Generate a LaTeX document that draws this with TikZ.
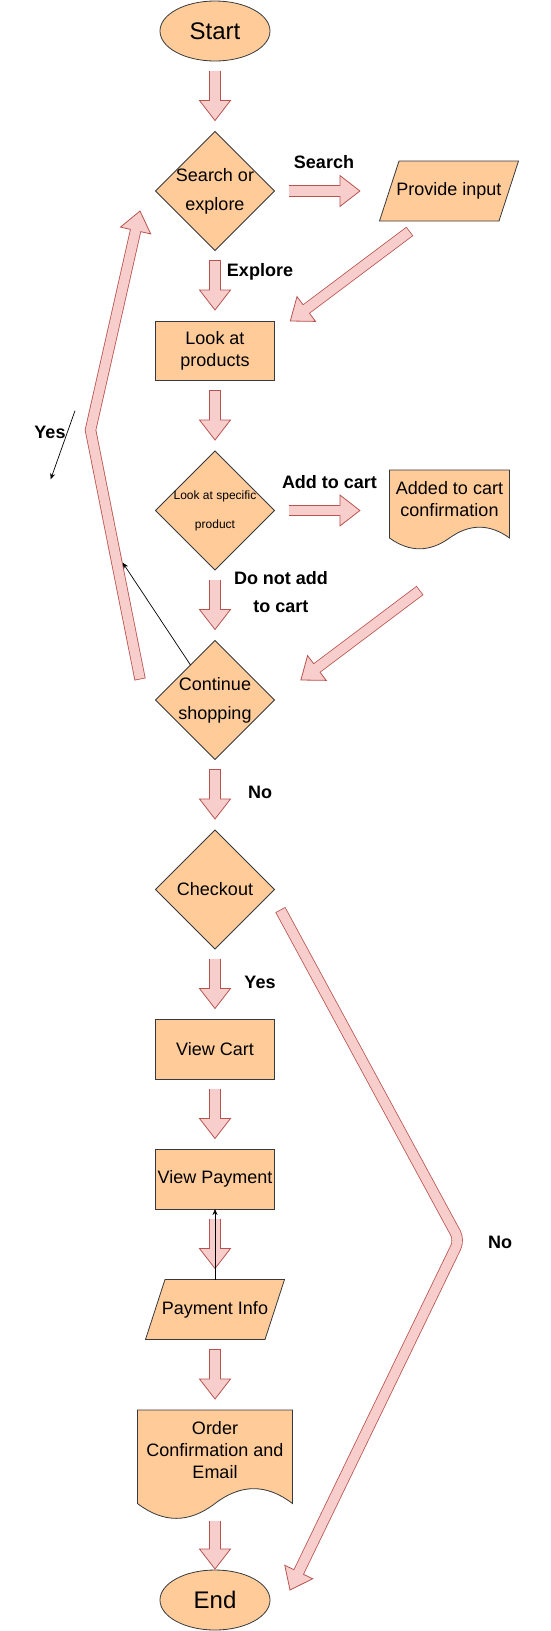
\documentclass[tikz,border=0pt]{standalone}
\usepackage{fontspec}
\setmainfont{Liberation Sans}
\usetikzlibrary{shapes.geometric,arrows.meta,positioning,calc,backgrounds}
\definecolor{ShapeFill}{HTML}{FFCC99}
\definecolor{ShapeLine}{HTML}{36393D}
\definecolor{FlowFill}{HTML}{F8CECC}
\definecolor{FlowLine}{HTML}{B85450}

% block arrow: #2 tail part of the path, #3 last corner before the tip, #4 tip
\newcommand{\blockpath}[4][]{%
  \coordinate (bp-base) at ($#4!20pt!#3$);
  \draw[blockedge,#1] #2 -- (bp-base);
  \filldraw[blockhead] (bp-base) -- ($(bp-base)!15.5pt!90:#4$) -- #4 -- ($(bp-base)!15.5pt!-90:#4$) -- cycle;
  \draw[blockcore,#1] #2 -- ($(bp-base)!1pt!#4$);
}
\newcommand{\blockarrow}[2]{\blockpath{#1}{#1}{#2}}
% wavy document outline behind a node
\newcommand{\docshape}[3]{%
  \begin{scope}[shift={(#1.north west)},x=#2,y=-#3]
    \filldraw[draw=ShapeLine,fill=ShapeFill,line width=0.8pt] (0,0) -- (1,0) -- (1,0.85)
      .. controls (0.8333,0.67) and (0.6667,0.67) .. (0.5,0.85)
      .. controls (0.3333,1.03) and (0.1667,1.03) .. (0,0.85) -- cycle;
  \end{scope}}
% slanted input box behind a node
\newcommand{\ioshape}[1]{%
  \filldraw[draw=ShapeLine,fill=ShapeFill,line width=0.8pt] ([xshift=19.5pt]#1.north west) -- (#1.north east)
    -- ([xshift=-19.5pt]#1.south east) -- (#1.south west) -- cycle;}

\begin{document}
\begin{tikzpicture}[x=1pt,y=-1pt,
  base/.style={draw=ShapeLine,fill=ShapeFill,line width=0.8pt,outer sep=0pt,align=center,font=\fontsize{18}{22}\selectfont},
  terminal/.style={base,ellipse,minimum width=110pt,minimum height=60pt,inner sep=0pt,font=\fontsize{24}{28}\selectfont},
  decision/.style={base,diamond,minimum width=119pt,minimum height=119pt,inner sep=-12pt,font=\fontsize{18}{29}\selectfont},
  process/.style={base,rectangle,minimum width=119pt,minimum height=59.5pt,inner sep=2pt},
  io/.style={base,draw=none,fill=none,minimum width=139pt,minimum height=60pt,inner sep=0pt},
  doc/.style={base,draw=none,fill=none,inner sep=0pt},
  lbl/.style={align=center,font=\bfseries\fontsize{18}{22}\selectfont},
  blockedge/.style={draw=FlowLine,line width=11.3pt,line join=miter,shorten <=-0.4pt},
  blockcore/.style={draw=FlowFill,line width=9.7pt,line join=miter,shorten <=0.4pt},
  blockhead/.style={draw=FlowLine,fill=FlowFill,line width=0.8pt,line join=miter},
  pointer/.style={draw=black,line width=0.7pt,-{Stealth[length=6pt,width=5pt]}}
]
\useasboundingbox (0,0) rectangle (551,1631);

% main column
\node[terminal] (start) at (215,31) {Start};
\node[decision,below=70.5pt of start] (search) {Search or\\explore};
\node[process,below=70.5pt of search] (products) {Look at\\products};
\node[decision,below=70.5pt of products,font=\fontsize{12}{29}\selectfont] (specific) {Look at specific\\product};
\node[decision,below=70.5pt of specific] (continue) {Continue\\shopping};
\node[decision,below=70.5pt of continue] (checkout) {Checkout};
\node[process,below=70.5pt of checkout] (cart) {View Cart};
\node[process,below=70.5pt of cart] (payment) {View Payment};
\node[io,below=70.5pt of payment] (info) {Payment Info};
\node[doc,minimum width=155pt,minimum height=79.2pt,below=70.5pt of info] (order) {Order\\Confirmation and\\Email};
\node[terminal,below=80.8pt of order] (stop) {End};

% side column
\node[io] (provide) at (449,191) {Provide input};
\node[doc,minimum width=120pt,minimum height=57.6pt] (added) at (449.5,498.8) {Added to cart\\confirmation};

\begin{pgfonlayer}{background}
  \docshape{added}{120pt}{80pt}
  \docshape{order}{155pt}{110pt}
  \ioshape{provide}
  \ioshape{info}
\end{pgfonlayer}

% labels
\node[lbl] (lsearch) at (324,162) {Search};
\node[lbl] (lexplore) at (260,272) {Explore};
\node[lbl] (ladd) at (329.5,482) {Add to cart};
\node[lbl,font=\bfseries\fontsize{18}{28}\selectfont] (lnotadd) at (281,592.5) {Do not add\\to cart};
\node[lbl] (lno) at (260,792) {No};
\node[lbl] (lyes) at (260,982) {Yes};
\node[lbl] (lloop) at (50,432) {Yes};
\node[lbl] (lexit) at (500,1242) {No};

% straight flow
\blockarrow{([yshift=-10pt]start.south)}{([yshift=11pt]search.north)}
\blockarrow{([yshift=-10pt]search.south)}{([yshift=11pt]products.north)}
\blockarrow{([yshift=-10pt]products.south)}{([yshift=11pt]specific.north)}
\blockarrow{([yshift=-10pt]specific.south)}{([yshift=11pt]continue.north)}
\blockarrow{([yshift=-10pt]continue.south)}{([yshift=11pt]checkout.north)}
\blockarrow{([yshift=-10pt]checkout.south)}{([yshift=11pt]cart.north)}
\blockarrow{([yshift=-10pt]cart.south)}{([yshift=11pt]payment.north)}
\blockarrow{([yshift=-10pt]payment.south)}{([yshift=11pt]info.north)}
\blockarrow{([yshift=-10pt]info.south)}{([yshift=11pt]order.north)}
\blockarrow{([yshift=-31.8pt]order.south)}{([yshift=1pt]stop.north)}
\blockarrow{([xshift=14.4pt]search.east)}{([xshift=85.4pt]search.east)}
\blockarrow{([xshift=14.4pt]specific.east)}{([xshift=85.4pt]specific.east)}
\blockarrow{([shift={(-39.5,10.5)}]provide.south)}{([xshift=15.8pt]products.north east)}
\blockarrow{([shift={(-29.8,63)}]added.south)}{([shift={(26.4,-20)}]continue.east)}

% loop back and exit
\coordinate (loopbend) at (90.5,430);
\blockpath{([shift={(-15.5,-21)}]continue.west) -- (loopbend)}{(loopbend)}{([shift={(-15.5,20)}]search.west)}
\coordinate (exitbend) at (459.3,1240);
\blockpath[rounded corners=8pt]{([shift={(6,20.5)}]checkout.east) -- (exitbend)}{(exitbend)}{([shift={(20,-10)}]stop.east)}

% thin pointers
\coordinate (loopmark) at (122.7,562.7);
\draw[pointer] (continue.125) -- (loopmark);
\coordinate (yestail) at (75,410.7);
\coordinate (yeshead) at (50.7,479.3);
\draw[pointer] (yestail) -- (yeshead);
\draw[pointer] (info.north) -- (payment.south);
\end{tikzpicture}
\end{document}
